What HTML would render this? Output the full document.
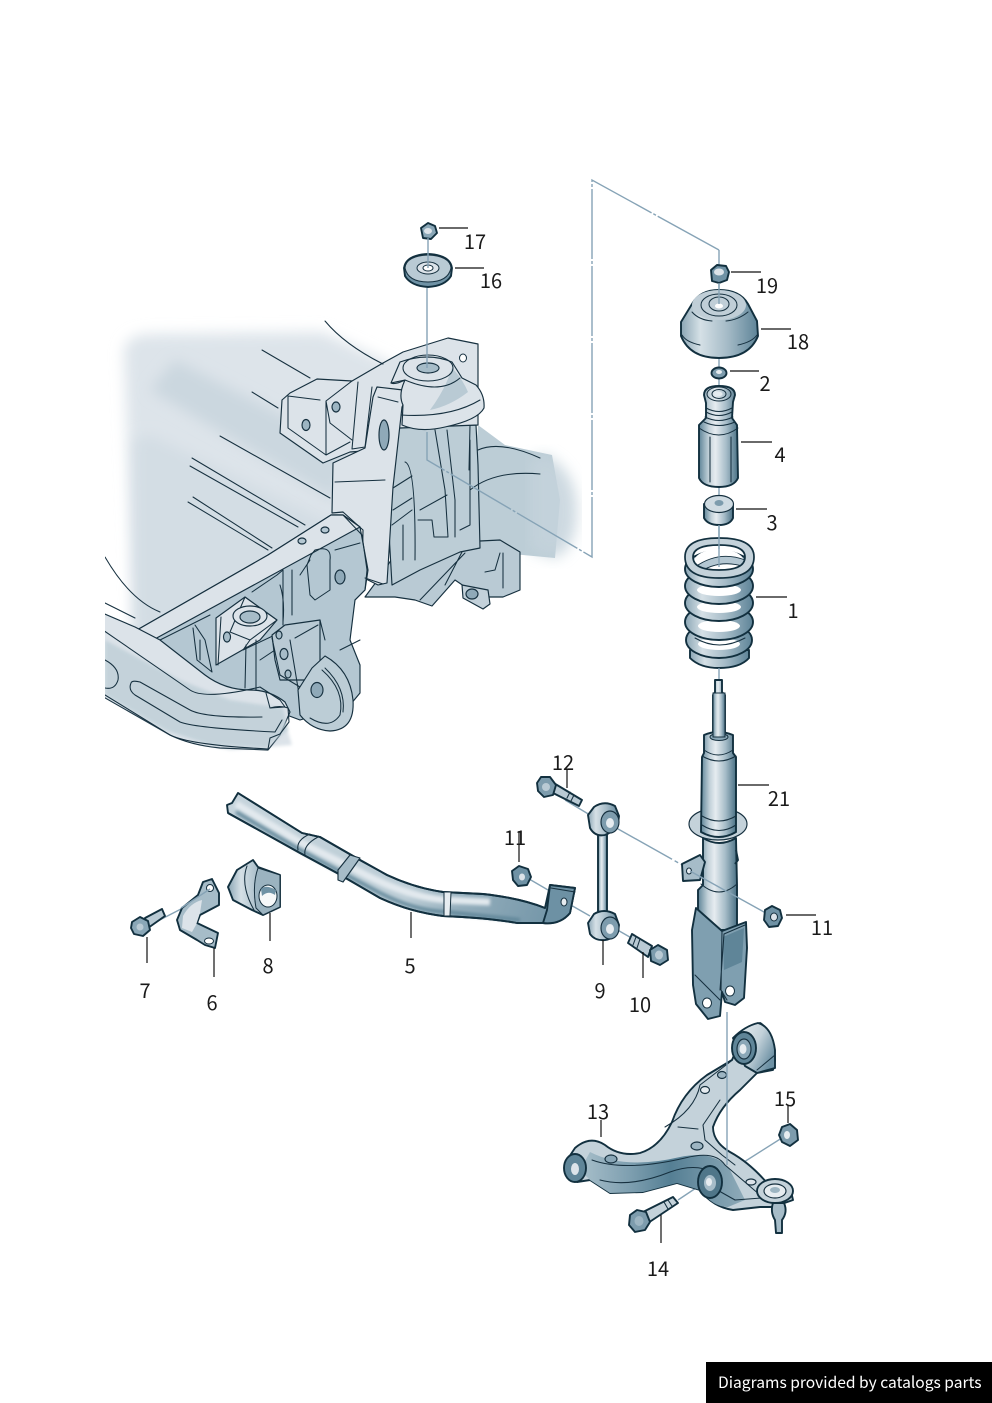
<!DOCTYPE html>
<html><head><meta charset="utf-8">
<style>
html,body{margin:0;padding:0;background:#fff;width:992px;height:1403px;overflow:hidden}
svg{display:block}
text{font-family:"Noto Sans CJK JP","Liberation Sans",sans-serif;font-size:20px;fill:#1a1a1a;text-anchor:middle}
.l{stroke:#16303f;stroke-width:1.05;fill:none;stroke-linejoin:round;stroke-linecap:round}
.o{stroke:#16303f;stroke-width:1.15;stroke-linejoin:round}
.b{stroke:#12303f;stroke-width:1.9;stroke-linejoin:round}
.ld{stroke:#111;stroke-width:1.2;fill:none}
.a{stroke:#86a3b6;stroke-width:1.4;fill:none}
.d{stroke-dasharray:70 2 3 2}
</style></head><body>
<svg width="992" height="1403" viewBox="0 0 992 1403" xmlns="http://www.w3.org/2000/svg">
<defs>
<filter id="bl"><feGaussianBlur stdDeviation="7"/></filter>
<filter id="s"><feGaussianBlur stdDeviation="1.5"/></filter>
<clipPath id="cf"><rect x="105" y="300" width="500" height="470"/></clipPath>
<linearGradient id="m" x1="0" x2="1" y1="0" y2="0"><stop offset="0" stop-color="#5f8598"/><stop offset=".25" stop-color="#c2d1d9"/><stop offset=".42" stop-color="#e6ecf0"/><stop offset=".7" stop-color="#a6bcc8"/><stop offset="1" stop-color="#4a7185"/></linearGradient>
<linearGradient id="cap" x1="0" x2="1" y1="0" y2="0"><stop offset="0" stop-color="#8ba6b5"/><stop offset=".25" stop-color="#d5e0e6"/><stop offset=".6" stop-color="#a5bbc7"/><stop offset="1" stop-color="#5e8498"/></linearGradient>
<linearGradient id="arm" x1="0" x2="1" y1="0" y2="0"><stop offset="0" stop-color="#a8bfca"/><stop offset=".3" stop-color="#7e9fb0"/><stop offset=".55" stop-color="#557f94"/><stop offset="1" stop-color="#8fabb9"/></linearGradient>
<linearGradient id="barg" x1="230" y1="800" x2="570" y2="920" gradientUnits="userSpaceOnUse"><stop offset="0" stop-color="#c6d4dc"/><stop offset=".55" stop-color="#bccdd6"/><stop offset=".7" stop-color="#94aebc"/><stop offset="1" stop-color="#6d91a4"/></linearGradient>
<linearGradient id="bu" x1="0" x2="1" y1="0" y2=".6"><stop offset="0" stop-color="#f0f4f6"/><stop offset=".6" stop-color="#c2d1d9"/><stop offset="1" stop-color="#6d91a4"/></linearGradient>
</defs>
<rect width="992" height="1403" fill="#fff"/>

<!-- SUBFRAME -->
<g clip-path="url(#cf)">
<path d="M124,350 Q128,334 150,334 L322,332 L395,365 L350,530 L190,630 L135,630 Z" fill="#dde4ea" filter="url(#bl)"/>
<path d="M110,625 L150,625 L230,690 L280,705 L292,745 L230,750 L170,735 L100,690 Z" fill="#dce3e9" filter="url(#s)"/>
<path d="M150,390 L175,360 L350,450 L335,500 Z" fill="#cbd7df" filter="url(#bl)"/>
<path d="M150,435 L335,525 L240,590 L135,640 L135,440 Z" fill="#d3dde4" filter="url(#bl)"/>
<path d="M478,425 L505,445 L552,455 L560,500 L555,558 L470,550 Z" fill="#bccdd6"/>
<path d="M545,455 Q578,470 577,515 Q575,550 555,558 L530,550 L530,460Z" fill="#c5d3dc" filter="url(#bl)" opacity=".85"/>

<!-- lower right brackets -->
<path class="o" d="M400,545 L500,540 L520,552 L520,590 L503,597 L490,597 L480,597 L455,580 L432,606 L415,600 L395,597 L365,597 L385,570Z" fill="#b9cad4"/>
<path class="o" d="M462,585 L488,590 L490,604 L483,609 L463,598Z" fill="#c3d1da"/>
<ellipse class="o" cx="472" cy="594" rx="6" ry="5" fill="#8fa9b8"/>
<path class="l" d="M500,553 L495,570 L485,572 M503,553 L503,588 M445,585 L463,550 M420,600 L465,553"/>

<!-- tower rear (shaded) -->
<path class="o" d="M400,425 L476,425 L478,465 L480,548 L460,552 L420,570 L392,585 L386,480Z" fill="#bccdd6"/>
<path class="l" d="M435,430 L445,490 L448,537 M447,430 L455,500 L455,537 M470,425 L469,470 M393,488 L412,476 M393,510 L412,498 M420,510 L447,495 M405,462 Q416,465 415,560 M392,525 L412,510 M403,525 L403,560 M418,520 L432,520 L434,537 L448,537 M478,450 Q500,440 540,458 M470,490 Q495,470 540,474 M470,440 L470,525 L460,530"/>

<!-- upper plate and bracket -->
<path class="o" d="M282,400 L290,393 L317,379 L352,381 L383,363 L403,352 L448,338 L478,344 L478,425 L400,428 L378,450 L350,452 L323,463 L280,433Z" fill="#dce3e9"/>
<path class="l" d="M288,396 L288,428 L326,455 L350,442 M288,396 L320,400 M326,401 L326,455 M352,381 L326,401 L330,423 L352,440"/>
<ellipse class="o" cx="306" cy="425" rx="4" ry="5.5" fill="#9db5c2"/>
<ellipse class="o" cx="336" cy="407" rx="4" ry="5" fill="#9db5c2"/>
<ellipse cx="463" cy="358" rx="3.5" ry="4" fill="#fff" stroke="#16303f"/>
<path class="l" d="M358,382 L352,449 L365,447 L372,387"/>

<!-- tower panel -->
<path class="o" d="M377,387 L403,390 L408,395 L402,407 L393,487 L387,583 L378,585 L362,577 L363,530 L343,512 L332,513 L333,463 L365,448 L373,397Z" fill="#dce3e9"/>
<path class="l" d="M335,482 L385,480 M378,397 L398,402"/>
<ellipse class="o" cx="384" cy="435" rx="5" ry="15" fill="#8fa9b8"/>

<!-- cup -->
<path class="o" d="M402,425 L403,405 Q398,395 405,380 L391,383 L400,362 Q428,352 452,362 L462,378 L476,385 Q485,395 484,408 Q478,420 445,427 Q420,433 402,425Z" fill="#dce3e9"/>
<path d="M452,368 Q462,378 468,392 Q450,406 430,410 Q445,390 452,368Z" fill="#b9cad4"/>
<path class="l" d="M391,383 Q395,385 405,380 Q440,395 460,378 M401,415 Q450,418 480,400"/>
<ellipse class="l" cx="428" cy="368" rx="25" ry="13" fill="#dce3e9"/>
<ellipse class="o" cx="428" cy="368" rx="11" ry="5" fill="#a6bcc8"/>
<path class="l" d="M325,321 Q345,345 383,364"/>

<!-- long lines on backdrop -->
<path class="l" d="M262,350 L310,378 M252,392 L278,408 M220,436 L330,498 M192,458 L305,525 M190,466 L298,527 M193,497 L272,548 M188,502 L268,550"/>
<path class="l" d="M105,557 Q130,600 160,612 M105,603 L135,618"/>

<!-- crossmember -->
<path class="o" d="M137,630 L268,555 L331,515 L343,515 L360,527 L368,570 L365,590 L355,600 L350,640 L360,665 L360,693 L350,705 L300,720 L220,690 L170,665 L153,640Z" fill="#b4c7d2"/>
<path class="o" d="M137,630 L268,555 L331,515 L343,515 L360,527 L153,640Z" fill="#dce3e9"/>
<ellipse class="o" cx="302" cy="541" rx="4" ry="3" fill="#b4c7d2"/>
<ellipse class="o" cx="325" cy="530" rx="4" ry="3" fill="#b4c7d2"/>
<path class="l" d="M343,515 L362,535 L367,570 L365,590 L355,600 M365,578 L383,584"/>
<path class="l" d="M160,640 L210,615 M280,585 Q285,600 283,622 M277,575 L283,570 L283,625 M292,570 L292,615 M311,555 L315,550 Q332,545 330,560 L330,590 L315,600 L310,595 L307,565Z M335,550 L360,543 M252,592 L277,575 M300,575 L310,560"/>
<ellipse class="o" cx="340" cy="577" rx="5" ry="7" fill="#8fa9b8"/>
<path class="l" d="M193,628 L197,660 L212,672 M195,625 L205,640 L212,672 M200,640 L200,660 M218,629 L218,662 M260,660 L320,620 L325,640 M360,640 L340,650"/>
<!-- mount block -->
<path class="o" d="M216,618 L245,597 L277,620 L260,640 L216,665Z" fill="#dce3e9"/>
<path class="l" d="M221,617 L218,665 M245,597 L277,620 L250,640 L230,632 Z"/>
<ellipse class="o" cx="250" cy="616" rx="17" ry="10" fill="#dce3e9"/>
<ellipse class="o" cx="250" cy="617" rx="10" ry="6" fill="#a6bcc8"/>
<ellipse class="o" cx="227" cy="637" rx="3.5" ry="5" fill="#a6bcc8"/>
<path class="l" d="M250,640 L243,650 L296,625 M246,645 L245,688 M256,640 L256,690"/>

<!-- bracket under -->
<path class="o" d="M272,635 L285,625 L320,620 L320,665 L312,680 L280,680 L275,660Z" fill="#b9cad4"/>
<path class="l" d="M290,640 L300,700 M295,638 L318,625 M272,638 L280,675 L305,690"/>
<ellipse class="o" cx="284" cy="654" rx="4" ry="5.5" fill="#a6bcc8"/>
<ellipse class="o" cx="279" cy="635" rx="3" ry="4" fill="#a6bcc8"/>
<ellipse class="o" cx="288" cy="674" rx="3" ry="4" fill="#a6bcc8"/>

<!-- round eye -->
<path class="o" d="M325,656 Q350,670 353,700 Q355,730 330,731 Q312,730 300,715 L298,690 L312,668Z" fill="#bccdd6"/>
<path class="l" d="M322,670 Q345,690 340,715 Q330,730 310,718"/>
<path class="l" d="M325,668 Q346,688 343,712"/>
<ellipse class="o" cx="317" cy="690" rx="6" ry="7.5" fill="#8fa9b8"/>

<!-- front arm -->
<path class="o" d="M100,612 L135,627 L160,640 L205,675 Q225,690 250,690 Q270,690 285,702 L290,712 L280,735 L268,750 L220,748 Q190,745 170,735 L100,695Z" fill="#dce3e9"/>
<path d="M105,640 L180,680 L230,700 L283,708 L288,730 L266,748 L210,745 L165,730 L105,695Z" fill="#bccdd6" filter="url(#s)" opacity=".75"/>
<path class="l" d="M100,628 L190,690 Q205,700 260,687 L280,700 L285,707 L270,708 L266,693"/>
<path class="l" d="M105,660 Q120,668 118,680 Q115,690 105,688"/>
<path class="l" d="M105,695 L170,735 Q190,745 268,749 L270,738 L280,734 L289,722 L288,708 Q280,705 270,708"/>
<path class="l" d="M131,683 Q132,680 140,682 L190,710 Q205,718 262,717 M131,683 Q128,690 135,695 L180,722 Q195,728 275,732 L282,720"/>
</g>

<!-- AXIS LINES -->
<g>
<path class="a d" d="M719,250 L592,180 L592,557 L427,460 L427,432"/>
<path class="a" d="M427,288 L427,368"/>
<path class="a" d="M719,250 L719,268"/>
<path class="a" d="M719,278 L719,580"/>
<path class="a" d="M611,825 L700,875" stroke-dasharray="70 3 4 3"/>
<path class="a" d="M565,800 L590,815 M524,876 L548,890 M569,904 L590,916 M614,928 L635,940"/>
<path class="a" d="M150,925 L212,893"/>
<path class="a" d="M744,1162 L785,1136 M678,1200 L708,1180"/>
</g>

<!-- 17 nut, 16 washer -->
<path class="b" d="M421,228 L428,223 L435,226 L437,233 L431,239 L423,238Z" fill="#8aa7b7"/>
<ellipse cx="428" cy="231" rx="4" ry="3" fill="#dce3e9"/>
<path class="b" d="M404,268 Q406,255 428,254 Q450,255 452,268 L451,276 Q445,286 428,287 Q411,286 405,276Z" fill="#6f92a5"/>
<path d="M405,268 Q406,256 428,255 Q450,256 451,268 Q448,282 428,282 Q408,282 405,268Z" fill="#b9cad4" stroke="#16303f"/>
<ellipse cx="428" cy="268" rx="11" ry="6" fill="#dce3e9" stroke="#16303f"/>
<ellipse cx="428" cy="268" rx="5" ry="3" fill="#fff" stroke="#16303f"/>
<path class="a" d="M428,238 L428,268"/>

<!-- 19 nut -->
<path class="b" d="M711,270 L717,265 L726,266 L729,272 L727,280 L719,283 L712,281Z" fill="#6f92a5"/>
<ellipse cx="719" cy="272" rx="5" ry="3.5" fill="#dce3e9"/>

<!-- 18 cap -->
<path class="b" d="M692,304 Q700,290 719,290 Q740,290 748,304 L757,321 L758,336 Q749,358 719,358 Q690,358 681,336 L681,322 Z" fill="url(#cap)"/>
<ellipse cx="719" cy="305" rx="27" ry="15" fill="#c0ced7"/>
<path class="l" d="M682,335 Q686,342 700,345 M738,345 Q752,342 757,335 M692,312 Q699,320 712,321 M748,312 Q738,320 726,321"/>
<ellipse class="l" cx="719" cy="305" rx="18" ry="11" fill="#a6bcc8"/>
<ellipse class="l" cx="719" cy="304" rx="10" ry="7" fill="#dce3e9"/>
<ellipse cx="719" cy="306" rx="4" ry="2.5" fill="#fff"/>
<path class="a" d="M719,283 L719,304"/>

<!-- 2 washer -->
<ellipse class="b" cx="719" cy="373" rx="7.5" ry="5.5" fill="#7d9cad"/>
<ellipse cx="719" cy="372" rx="3" ry="2" fill="#e6ecf0"/>

<!-- 4 bump stop -->
<path class="b" d="M704,395 Q704,386 719,386 Q735,386 735,395 L733,402 L732,418 L737,425 L738,478 Q734,487 719,487 Q703,487 699,478 L699,425 L706,418 L706,403Z" fill="url(#m)"/>
<ellipse class="l" cx="719" cy="394" rx="12" ry="7" fill="#a6bcc8"/>
<ellipse class="l" cx="719" cy="394" rx="7" ry="4.5" fill="#5f8598"/>
<ellipse cx="719" cy="394" rx="3.5" ry="2.2" fill="#e6ecf0"/>
<path class="l" d="M706,408 Q719,415 732,408 M706,412 Q719,419 732,412 M705,417 Q719,424 733,417 M704,422 Q719,429 735,422"/>
<path class="l" d="M710,437 L710,482 M731,437 L731,482 M699,428 Q719,442 738,428"/>

<!-- 3 spacer -->
<path class="b" d="M704,504 L704,518 Q708,525 719,525 Q730,525 733,518 L733,504 Z" fill="url(#m)"/>
<ellipse class="o" cx="719" cy="504" rx="14.5" ry="8.5" fill="#cfdbe2"/>
<ellipse cx="719" cy="503" rx="4.5" ry="3" fill="#7d9cad"/>

<!-- 1 spring -->
<g>
<path class="b" d="M690,650 L690,658 Q700,668 719,668 Q740,668 749,658 L749,650Z" fill="url(#cap)"/>
<ellipse class="b" cx="719" cy="640" rx="33" ry="18" fill="url(#cap)"/>
<ellipse cx="719" cy="644" rx="21" ry="6" fill="#fff"/>
<path class="l" d="M695,638 Q719,652 745,638"/>
<ellipse class="b" cx="719" cy="622" rx="34" ry="18" fill="url(#cap)"/>
<ellipse cx="719" cy="626" rx="21" ry="6" fill="#fff"/>
<ellipse class="b" cx="719" cy="603" rx="34" ry="18" fill="url(#cap)"/>
<ellipse cx="719" cy="607" rx="22" ry="6" fill="#fff"/>
<ellipse class="b" cx="719" cy="586" rx="34" ry="18" fill="url(#cap)"/>
<ellipse cx="719" cy="590" rx="22" ry="6" fill="#fff"/>
<ellipse class="b" cx="719" cy="569" rx="34" ry="18" fill="url(#cap)"/>
<ellipse cx="719" cy="562" rx="25" ry="13" fill="#fff"/>
<path d="M695,567 Q719,550 745,560 L745,567 Q719,558 697,574Z" fill="#b4c7d2" stroke="#16303f" stroke-width=".9"/>
<path d="M685,557 Q685,538 719,538 Q754,538 754,557 Q754,578 719,578 Q685,578 685,557Z M693,557 Q693,570 719,570 Q745,570 745,557 Q745,545 719,545 Q693,545 693,557Z" fill="#c4d2da" fill-rule="evenodd" stroke="#12303f" stroke-width="1.7"/>
<path class="a" d="M719,525 L719,567"/>
</g>

<!-- 21 strut -->
<g>
<path class="a" d="M719,668 L719,680"/>
<path class="b" d="M715,680 L722,680 L722,692 L725,695 L725,735 L713,735 L713,695 L715,692Z" fill="url(#m)"/>
<ellipse class="o" cx="718" cy="824" rx="29" ry="16" fill="#c4d2da"/>
<path class="b" d="M704,735 Q718,729 733,735 L733,753 L736,757 L736,832 Q719,842 701,832 L702,757 L704,753Z" fill="url(#m)"/>
<path class="l" d="M704,750 Q718,760 733,750 M702,756 Q719,766 736,756 M702,816 Q719,826 736,816 M702,825 Q719,836 736,825"/>
<ellipse cx="719" cy="737" rx="9" ry="3.5" fill="#8aa7b7" stroke="#16303f"/>
<rect x="713" y="693" width="12" height="44" fill="url(#m)" stroke="#16303f"/>
<path class="b" d="M703,838 L703,885 L698,890 L698,930 L737,930 L737,885 L736,838 Q719,848 703,838Z" fill="url(#m)"/>
<path class="l" d="M701,884 Q719,900 737,884"/>
<path class="b" d="M682,864 L683,881 L700,880 L705,862 L700,855Z" fill="#a6bcc8"/>
<ellipse cx="689" cy="871" rx="2.5" ry="3" fill="#e6ecf0" stroke="#16303f"/>
<path class="b" d="M736,850 L738,860 L735,864" fill="none"/>
<!-- fork -->
<path class="b" d="M696,908 L722,931 L746,922 L747,948 L744,998 L735,1005 L725,1002 L722,992 L720,1016 L708,1019 L696,1004 L693,985 L692,930Z" fill="#7f9fb0"/>
<path d="M723,937 L744,928 L742,962 L724,970 Z" fill="#5f8598"/>
<path class="l" d="M722,931 L721,990 M695,975 L720,1000 M745,925 L724,934 L720,990 M721,990 L727,1000"/>
<ellipse cx="707" cy="1003" rx="4.5" ry="5" fill="#fff" stroke="#16303f"/>
<ellipse cx="730" cy="991" rx="4.5" ry="5" fill="#fff" stroke="#16303f"/>
</g>
<path class="a" d="M690,871 L773,917"/>
<!-- nut 11 right -->
<path class="b" d="M765,910 L772,906 L780,910 L782,918 L778,926 L769,927 L764,920Z" fill="#6f92a5"/>
<ellipse cx="774" cy="917" rx="3.5" ry="4" fill="#dce3e9" stroke="#16303f"/>

<!-- 9 link -->
<g>
<rect x="598" y="830" width="9" height="85" fill="url(#m)" class="b"/>
<path class="b" d="M588,815 L594,807 Q604,800 615,806 L619,816 Q618,830 605,835 Q595,837 590,828Z" fill="url(#cap)"/>
<ellipse class="o" cx="610" cy="822" rx="9" ry="11" fill="#7d9cad"/>
<ellipse cx="610" cy="823" rx="4" ry="5" fill="#e6ecf0"/>
<path class="b" d="M588,923 L594,914 Q604,908 615,914 L619,925 Q618,938 605,940 Q595,941 590,934Z" fill="url(#cap)"/>
<ellipse class="o" cx="610" cy="928" rx="9" ry="11" fill="#7d9cad"/>
<ellipse cx="610" cy="929" rx="4" ry="5" fill="#e6ecf0"/>
</g>

<!-- 12 bolt -->
<path class="b" d="M552,782 L582,800 L579,806 L549,791Z" fill="#b9cad4"/>
<path class="l" d="M570,792 L567,798 M574,795 L571,801"/>
<path class="b" d="M537,783 L541,777 L550,777 L556,785 L553,795 L544,797 L538,791Z" fill="#7d9cad"/>
<ellipse cx="546" cy="787" rx="4" ry="4" fill="#b9cad4"/>
<!-- 10 bolt -->
<path class="b" d="M632,934 L652,946 L648,957 L628,943Z" fill="#b9cad4"/>
<path class="l" d="M636,937 L633,945 M640,939 L637,948"/>
<path class="b" d="M650,950 L658,945 L667,950 L668,960 L660,965 L651,961Z" fill="#7d9cad"/>
<ellipse cx="659" cy="955" rx="4" ry="4.5" fill="#b9cad4"/>
<!-- nut 11 left -->
<path class="b" d="M512,871 L519,866 L528,869 L531,877 L527,885 L518,886 L513,880Z" fill="#6f92a5"/>
<ellipse cx="522" cy="877" rx="3" ry="3.5" fill="#dce3e9"/>

<!-- 5 bar -->
<path class="b" d="M238,793 L302,833 L320,837 L360,860 L387,875 Q415,888 443,892 L483,894 Q520,898 545,908 L550,885 L575,888 L570,913 Q560,925 543,923 L517,923 Q490,918 443,916 Q410,912 380,898 L337,873 L300,853 L228,813 L227,805 L232,803Z" fill="url(#barg)"/>
<path d="M236,804 L300,842 L360,872 Q410,898 447,900 L490,902" fill="none" stroke="#e2e9ee" stroke-width="7" filter="url(#s)"/>
<path d="M236,812 L300,850 L380,893 Q415,911 447,912 L520,920" fill="none" stroke="#5f8598" stroke-width="3.5" filter="url(#s)"/>
<path class="b" d="M238,793 L302,833 L320,837 L360,860 L387,875 Q415,888 443,892 L483,894 Q520,898 545,908 M228,813 L300,853 L337,873 L380,898 Q410,912 443,916 Q490,918 517,923 L543,923" fill="none"/>
<path class="b" d="M550,885 L575,888 L570,913 Q560,925 543,923 L547,910Z" fill="#6d91a4"/>
<path class="l" d="M551,888 L575,892"/>
<ellipse cx="564" cy="902" rx="3" ry="4" fill="#e6ecf0" stroke="#16303f"/>
<path class="l" d="M298,850 Q296,840 310,834 M305,855 Q303,845 318,837"/>
<path class="o" d="M338,870 L350,855 L360,858 L343,882 L338,880Z" fill="#a6bcc8"/>
<path d="M444,892 L451,892 L450,916 L444,916Z" fill="#e6ecf0" stroke="#16303f"/>

<!-- 8 bush -->
<path class="b" d="M228,887 L237,870 L253,860 L258,867 L280,875 L280,907 L263,915 L252,910 L233,900Z" fill="url(#cap)"/>
<path class="l" d="M247,866 Q240,885 254,910"/>
<path d="M258,868 L280,875 L280,907 L263,915 L256,908 Q252,885 258,868Z" fill="#9bb3c0" stroke="#16303f"/>
<ellipse cx="268" cy="896" rx="9" ry="11" fill="#f6f8f9" stroke="#16303f"/>
<path d="M261,889 Q266,884 276,890 L275,895 Q268,890 262,896Z" fill="#6f92a5"/>

<!-- 6 clamp -->
<path class="b" d="M203,882 L212,879 L219,893 L219,905 L200,915 L197,923 L218,933 L215,948 L205,945 L197,940 L180,930 L177,920 L182,908 L198,895Z" fill="#a6bcc8"/>
<path d="M183,916 Q190,903 202,900 L200,913 L196,925 L192,932 L182,928Z" fill="#dce3e9"/>
<ellipse cx="210" cy="888" rx="3.5" ry="3.5" fill="#fff" stroke="#16303f"/>
<ellipse cx="209" cy="941" rx="4.5" ry="3" fill="#fff" stroke="#16303f"/>
<path class="a" d="M181,908 L210,889"/>

<!-- 7 bolt -->
<path class="b" d="M145,918 L162,909 L165,916 L148,928Z" fill="#b9cad4"/>
<path class="b" d="M132,922 L140,917 L148,921 L150,930 L143,936 L134,934 L131,928Z" fill="#8aa7b7"/>
<ellipse cx="140" cy="927" rx="3.5" ry="3.5" fill="#b9cad4"/>

<!-- 13 arm -->
<g>
<path class="b" d="M575,1148 Q590,1135 605,1145 Q620,1157 640,1153 Q660,1147 672,1122 Q682,1093 707,1075 L732,1060 L745,1030 L760,1023 Q773,1030 775,1060 L773,1070 L757,1073 L740,1090 Q720,1107 713,1127 Q713,1142 730,1152 Q750,1163 767,1183 L790,1187 L793,1200 L773,1207 L760,1207 L733,1210 Q713,1207 700,1190 L677,1183 L643,1192 L610,1193 L590,1180 L577,1182 L565,1163Z" fill="#c4d2da"/>
<path d="M590,1152 Q625,1170 680,1157 Q715,1150 730,1170 L745,1200 L728,1207 Q713,1207 700,1190 L677,1183 L643,1192 L610,1193 L590,1180 L580,1170Z" fill="url(#arm)"/>
<path class="l" d="M592,1160 Q625,1172 685,1158 Q715,1150 725,1165 L760,1195 M600,1180 Q630,1188 670,1172 Q695,1163 712,1172 M678,1127 L698,1129 M665,1127 Q695,1110 700,1085 L730,1062 M720,1100 L703,1125 L705,1140 L722,1155 L735,1165 M712,1187 L735,1200 L775,1197"/>
<ellipse class="o" cx="697" cy="1146" rx="6" ry="4" fill="#9db5c2"/>
<ellipse class="o" cx="705" cy="1090" rx="4.5" ry="3.5" fill="#e6ecf0"/>
<ellipse class="o" cx="722" cy="1075" rx="4.5" ry="3.5" fill="#9db5c2"/>
<ellipse class="o" cx="611" cy="1159" rx="6" ry="4" fill="#8aa7b7"/>
<ellipse class="o" cx="751" cy="1182" rx="5" ry="3" fill="#dce3e9"/>
<path class="b" d="M733,1038 Q745,1026 758,1023 Q772,1027 775,1050 L775,1068 L757,1073 L745,1066Z" fill="url(#bu)"/>
<path class="l" d="M757,1070 L775,1055"/>
<ellipse class="b" cx="744" cy="1048" rx="12" ry="16" fill="#5f8598"/>
<ellipse class="o" cx="744" cy="1049" rx="7" ry="10" fill="#8aa7b7"/>
<ellipse cx="743" cy="1049" rx="3.5" ry="5" fill="#e6ecf0"/>
<ellipse class="b" cx="575" cy="1168" rx="11" ry="14" fill="#5f8598"/>
<ellipse cx="575" cy="1169" rx="4" ry="6" fill="#dce3e9"/>
<ellipse class="b" cx="710" cy="1182" rx="12" ry="16" fill="#4f7689"/>
<ellipse cx="710" cy="1183" rx="6" ry="8" fill="#a6bcc8"/>
<ellipse cx="709" cy="1182" rx="3" ry="4" fill="#e6ecf0"/>
<ellipse class="b" cx="775" cy="1191" rx="18" ry="12" fill="#c4d2da"/>
<ellipse class="o" cx="775" cy="1191" rx="11" ry="7" fill="#e6ecf0"/>
<ellipse cx="775" cy="1190" rx="5" ry="3" fill="#9db5c2"/>
<path class="b" d="M773,1203 L784,1203 Q788,1212 782,1220 L782,1233 L776,1233 L775,1220 Q770,1212 773,1203Z" fill="#a6bcc8"/>
</g>
<path class="a" d="M727,1012 L727,1165" stroke="#a9c0cf"/>

<!-- 15 nut -->
<path class="b" d="M782,1127 L790,1124 L797,1130 L798,1140 L790,1146 L782,1142 L779,1135Z" fill="#7d9cad"/>
<ellipse cx="787" cy="1135" rx="3" ry="4" fill="#e6ecf0"/>
<!-- 14 bolt -->
<path class="b" d="M643,1212 L673,1197 L678,1203 L648,1223Z" fill="#c4d2da"/>
<path class="l" d="M664,1202 L668,1209 M668,1200 L672,1206"/>
<path class="b" d="M630,1215 L637,1210 L646,1212 L650,1222 L645,1230 L635,1232 L629,1225Z" fill="#7d9cad"/>
<ellipse cx="639" cy="1221" rx="4.5" ry="5" fill="#9db5c2"/>

<!-- LEADERS -->
<path class="ld" d="M439,228H468 M455,268H484 M731,272H761 M761,329H791 M730,371H759 M741,442H772 M736,509H767 M756,597H787 M738,785H769 M567,770V788 M519,831V862 M786,915H816 M147,937V963 M214,948V977 M270,913V941 M411,912V938 M603,940V965 M643,952V978 M601,1120V1137 M788,1105V1123 M661,1215V1243"/>

<!-- LABELS -->
<text x="475" y="249">17</text>
<text x="491" y="288">16</text>
<text x="767" y="293">19</text>
<text x="798" y="349">18</text>
<text x="765" y="391">2</text>
<text x="780" y="462">4</text>
<text x="772" y="530">3</text>
<text x="793" y="618">1</text>
<text x="779" y="806">21</text>
<text x="563" y="770">12</text>
<text x="515" y="845">11</text>
<text x="822" y="935">11</text>
<text x="145" y="998">7</text>
<text x="212" y="1010">6</text>
<text x="268" y="973">8</text>
<text x="410" y="973">5</text>
<text x="600" y="998">9</text>
<text x="640" y="1012">10</text>
<text x="598" y="1119">13</text>
<text x="785" y="1106">15</text>
<text x="658" y="1276">14</text>

<!-- FOOTER -->
<rect x="706" y="1362" width="286" height="41" fill="#000"/>
<text x="718" y="1388" style="font-size:15.6px;fill:#fff;text-anchor:start">Diagrams provided by catalogs parts</text>
</svg>
</body></html>
